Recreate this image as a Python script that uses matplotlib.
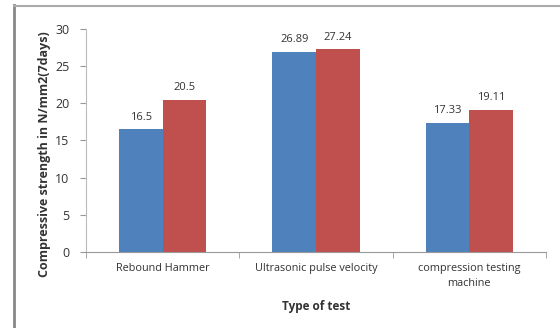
import numpy as np
import matplotlib
matplotlib.use("Agg")
import matplotlib.pyplot as plt
from matplotlib.lines import Line2D

# test methods and the two strength readings for each
tests = ["Rebound Hammer", "Ultrasonic pulse velocity", "compression testing\nmachine"]
series_a = [16.5, 26.89, 17.33]
series_b = [20.5, 27.24, 19.11]
a_labels = ["16.5", "26.89", "17.33"]
b_labels = ["20.5", "27.24", "19.11"]
yticks = [0, 5, 10, 15, 20, 25, 30]

blue = "#4F81BD"
red = "#C0504D"
txt = "#333333"

plt.rcParams["font.family"] = ["Open Sans", "DejaVu Sans"]

fig = plt.figure(figsize=(5.6, 3.28), dpi=100)
ax = fig.add_axes([0.1536, 0.2317, 0.8214, 0.68])

x = np.arange(len(tests))
w = 0.285
ba = ax.bar(x - w / 2, series_a, w, color=blue)
bb = ax.bar(x + w / 2, series_b, w, color=red)

for bars, labs in ((ba, a_labels), (bb, b_labels)):
    for r, s in zip(bars, labs):
        ax.text(r.get_x() + r.get_width() / 2, r.get_height() + 0.9, s,
                ha="center", va="bottom", fontsize=8, color=txt)

ax.set_xlim(-0.5, 2.5)
ax.set_ylim(0, 30)
ax.set_yticks(yticks)
ax.set_xticks(x)
ax.set_xticklabels(tests, fontsize=7.8, color=txt, linespacing=1.5)
ax.set_xticks([-0.5, 0.5, 1.5, 2.5], minor=True)
ax.tick_params(axis="x", which="major", length=0, pad=8)
ax.tick_params(axis="x", which="minor", length=4, color="#999999", direction="out")
ax.tick_params(axis="y", length=4, color="#999999", labelsize=9, labelcolor=txt, pad=8)

for side in ("top", "right"):
    ax.spines[side].set_visible(False)
ax.spines["left"].set_color("#BBBBBB")
ax.spines["bottom"].set_color("#999999")

ax.set_xlabel("Type of test", fontsize=8.5, fontweight="bold", color=txt, labelpad=8)
ax.set_ylabel("Compressive strength in N/mm2(7days)", fontsize=9,
              fontweight="bold", color=txt)
ax.yaxis.set_label_coords(-0.076, 0.44)

# outer chart frame, left and top edges
fig.add_artist(Line2D([0.025, 0.025], [0.0, 0.985], color="#888888", lw=2,
                      transform=fig.transFigure))
fig.add_artist(Line2D([0.025, 1.0], [0.982, 0.982], color="#AAAAAA", lw=1.5,
                      transform=fig.transFigure))

fig.savefig("out.png", dpi=100)
